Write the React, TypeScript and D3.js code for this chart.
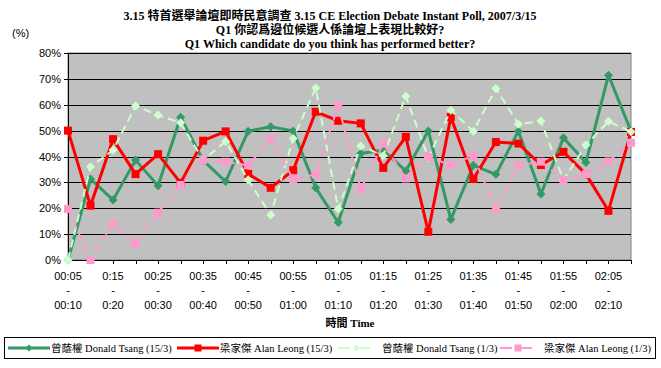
import React from 'react';
import * as d3 from 'd3';

const startTimes = ['00:05', '00:10', '0:15', '00:20', '00:25', '00:30', '00:35', '00:40', '00:45', '00:50', '00:55', '01:00', '01:05',
    '01:10', '01:15', '01:20', '01:25', '01:30', '01:35', '01:40', '01:45', '01:50', '01:55', '02:00', '02:05', '02:10'];
const endTimes = ['00:10', '00:15', '0:20', '00:25', '00:30', '00:35', '00:40', '00:45', '00:50', '00:55', '01:00', '01:05', '01:10',
    '01:15', '01:20', '01:25', '01:30', '01:35', '01:40', '01:45', '01:50', '01:55', '02:00', '02:05', '02:10', '02:15'];

const tsang15 = [0, 31.3, 23.2, 38.6, 28.7, 55.2, 38.5, 30.3, 49.8, 51.5, 49.9, 27.9, 14.5, 41.2, 42.5, 34.4, 49.9, 15.7, 36.6, 33.1, 49.8, 25.5, 47.2, 37.7, 71.4, 49.8];
const leong15 = [50, 21, 46.7, 33.2, 40.9, 29.8, 46.1, 49.7, 33.3, 27.9, 34.7, 57.3, 53.8, 52.8, 35.6, 47.6, 10.9, 55.3, 31.3, 45.6, 45, 36.7, 41.8, 33.2, 19, 49.5];
const tsang1 = [0, 36, 42.5, 59.5, 56, 53, 38.6, 45.8, 31, 17.4, 47, 66.5, 19.7, 44.1, 40.3, 63.3, 39.5, 57.9, 49.8, 66.3, 52.5, 53.7, 30.9, 44.4, 53.6, 49.6];
const leong1 = [19.7, 0, 13.9, 6.2, 18.3, 29, 38.6, 38, 36.6, 46.7, 31.3, 33.1, 59.6, 27.4, 45, 31.5, 39.8, 36.7, 40.3, 19.7, 36.6, 38, 30.9, 33.2, 38.1, 45.3];

const yTicks = [0, 10, 20, 30, 40, 50, 60, 70, 80];

const seriesNames = ['曾蔭權 Donald Tsang (15/3)', '梁家傑 Alan Leong (15/3)', '曾蔭權 Donald Tsang (1/3)', '梁家傑 Alan Leong (1/3)'];

const titleLines = [
    '3.15 特首選舉論壇即時民意調查 3.15 CE Election Debate Instant Poll, 2007/3/15',
    'Q1 你認爲邊位候選人係論壇上表現比較好?',
    'Q1 Which candidate do you think has performed better?'
];

const serif = '"Liberation Serif", "Times New Roman", "Noto Sans CJK TC", serif';
const sans = '"Liberation Sans", Arial, "Noto Sans CJK TC", sans-serif';

const styles = [
    { color: '#339966', width: 3, dash: null, marker: 'diamond' },
    { color: '#FF0000', width: 3, dash: null, marker: 'square' },
    { color: '#CCFFCC', width: 2, dash: '8,5', marker: 'diamond' },
    { color: '#FF99CC', width: 2, dash: '8,5', marker: 'square' }
];

function Marker({ type, x, y, size, color }) {
    if (type === 'diamond') {
        const r = size / 2;
        return <path d={`M${x},${y - r}L${x + r},${y}L${x},${y + r}L${x - r},${y}Z`} fill={color} />;
    }
    return <rect x={x - size / 2} y={y - size / 2} width={size} height={size} fill={color} />;
}

export default function App() {
    const margin = { top: 53, right: 30, bottom: 108, left: 68 },
        width = 661, height = 368;

    const x = d3.scalePoint().domain(startTimes).range([margin.left, width - margin.right]);
    const y = d3.scaleLinear().domain([0, 80]).range([height - margin.bottom, margin.top]);

    const allSeries = [tsang15, leong15, tsang1, leong1];
    const line = d3.line().x((d, i) => x(startTimes[i])).y(d => y(d));

    // legend line start / text start
    const legendLineX = [8, 177, 338, 500];
    const legendTextX = [51, 220, 382, 544];

    return <svg width={width} height={height} style={{ position: 'absolute', left: 0, top: 0, background: '#fff' }}>
        {titleLines.map((t, i) =>
            <text key={i} x={330} y={20 + i * 14} textAnchor="middle" fontFamily={serif} fontWeight="bold" fontSize={12}>{t}</text>
        )}
        <text x={12} y={37} fontFamily={sans} fontSize={11}>(%)</text>

        <rect x={margin.left} y={margin.top} width={width - margin.left - margin.right} height={y(0) - margin.top} fill="#C0C0C0" stroke="#808080" />

        {yTicks.map(t => <g key={t}>
            <line x1={margin.left - 4} x2={width - margin.right} y1={Math.round(y(t)) + 0.5} y2={Math.round(y(t)) + 0.5} stroke="#000" />
            <text x={margin.left - 7} y={y(t) + 4} textAnchor="end" fontFamily={sans} fontSize={11}>{t}%</text>
        </g>)}

        <line x1={margin.left + 0.5} x2={margin.left + 0.5} y1={margin.top} y2={y(0)} stroke="#000" />
        {startTimes.map(s => <line key={s} x1={Math.round(x(s)) + 0.5} x2={Math.round(x(s)) + 0.5} y1={y(0)} y2={y(0) + 4} stroke="#000" />)}

        {startTimes.map((s, i) => i % 2 === 0 && <g key={s} fontFamily={sans} fontSize={11} textAnchor="middle">
            <text x={x(s)} y={280}>{s}</text>
            <text x={x(s)} y={294}>-</text>
            <text x={x(s)} y={309}>{endTimes[i]}</text>
        </g>)}
        <text x={350} y={327} textAnchor="middle" fontFamily={serif} fontWeight="bold" fontSize={11}>時間 Time</text>

        {allSeries.map((data, k) => <g key={k}>
            <path d={line(data)} fill="none" stroke={styles[k].color} strokeWidth={styles[k].width}
                strokeDasharray={styles[k].dash || undefined} strokeLinejoin="round" />
            {data.map((v, i) => <Marker key={i} type={styles[k].marker} x={x(startTimes[i])} y={y(v)}
                size={styles[k].marker === 'diamond' ? 9 : 8} color={styles[k].color} />)}
        </g>)}

        <rect x={4.5} y={337.5} width={651} height={21} fill="#fff" stroke="#000" />
        {seriesNames.map((n, k) => <g key={n}>
            <line x1={legendLineX[k]} x2={legendLineX[k] + (k < 2 ? 42 : 36)} y1={348} y2={348} stroke={styles[k].color} strokeWidth={styles[k].width}
                strokeDasharray={styles[k].dash ? '12,8' : undefined} />
            <Marker type={styles[k].marker} x={legendLineX[k] + (k < 2 ? 21 : 18)} y={348} size={7} color={styles[k].color} />
            <text x={legendTextX[k]} y={352} fontFamily={serif} fontSize={10.5}>{n}</text>
        </g>)}
    </svg>
}
